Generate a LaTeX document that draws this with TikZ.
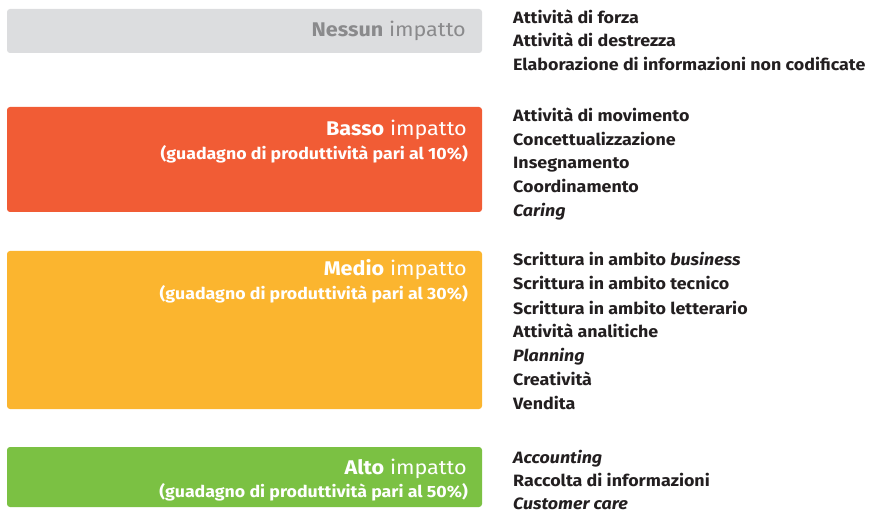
\documentclass[tikz,border=0pt]{standalone}
\usepackage{fontspec}
\setmainfont{Fira Sans}[FakeStretch=1.09]
\definecolor{grayfill}{HTML}{DCDDDF}
\definecolor{graytext}{HTML}{8A8A8C}
\definecolor{orangefill}{HTML}{F15C35}
\definecolor{yellowfill}{HTML}{FBB52F}
\definecolor{greenfill}{HTML}{7BC143}
\definecolor{listtext}{HTML}{231F20}
\tikzset{
  box/.style={draw=none, rounded corners=3pt, inner sep=0pt},
  title/.style={anchor=base east, inner sep=0pt, font=\fontsize{19.8}{22}\selectfont},
  subtitle/.style={anchor=base east, inner sep=0pt, font=\bfseries\fontsize{16.3}{18}\selectfont, text=white},
  item/.style={anchor=base west, inner sep=0pt, font=\bfseries\fontsize{16.4}{20}\selectfont, text=listtext},
}
\begin{document}
\begin{tikzpicture}[x=1pt,y=-1pt]
\useasboundingbox (0,0) rectangle (884,513);
% boxes
\fill[box, grayfill] (7,9) rectangle (482,53);
\fill[box, orangefill] (7,107) rectangle (482,212);
\fill[box, yellowfill] (7,251) rectangle (482,409);
\fill[box, greenfill] (7,447) rectangle (482,507);
% titles
\node[title, text=graytext] (t0) at (466,36.5) {\textbf{Nessun} impatto};
\node[title, text=white] (t1) at (467,135.7) {\textbf{Basso} impatto};
\node[subtitle] (s1) at (468,159.5) {(guadagno di produttività pari al 10\%)};
\node[title, text=white] (t2) at (467,275.7) {\textbf{Medio} impatto};
\node[subtitle] (s2) at (468,299.5) {(guadagno di produttività pari al 30\%)};
\node[title, text=white] (t3) at (467,474) {\textbf{Alto} impatto};
\node[subtitle] (s3) at (468,497) {(guadagno di produttività pari al 50\%)};
% lists
\node[item] (a1) at (513,23.3) {Attività di forza};
\node[item] (a2) at (513,47) {Attività di destrezza};
\node[item] (a3) at (513,71) {Elaborazione di informazioni non codificate};
\node[item] (b1) at (513,122) {Attività di movimento};
\node[item] (b2) at (513,146) {Concettualizzazione};
\node[item] (b3) at (513,169) {Insegnamento};
\node[item] (b4) at (513,193) {Coordinamento};
\node[item] (b5) at (513,217) {\textit{Caring}};
\node[item] (c1) at (513,266) {Scrittura in ambito \textit{business}};
\node[item] (c2) at (513,290) {Scrittura in ambito tecnico};
\node[item] (c3) at (513,314) {Scrittura in ambito letterario};
\node[item] (c4) at (513,337) {Attività analitiche};
\node[item] (c5) at (513,361) {\textit{Planning}};
\node[item] (c6) at (513,385) {Creatività};
\node[item] (c7) at (513,409) {Vendita};
\node[item] (d1) at (513,463) {\textit{Accounting}};
\node[item] (d2) at (513,486) {Raccolta di informazioni};
\node[item] (d3) at (513,509) {\textit{Customer care}};
\end{tikzpicture}
\end{document}
